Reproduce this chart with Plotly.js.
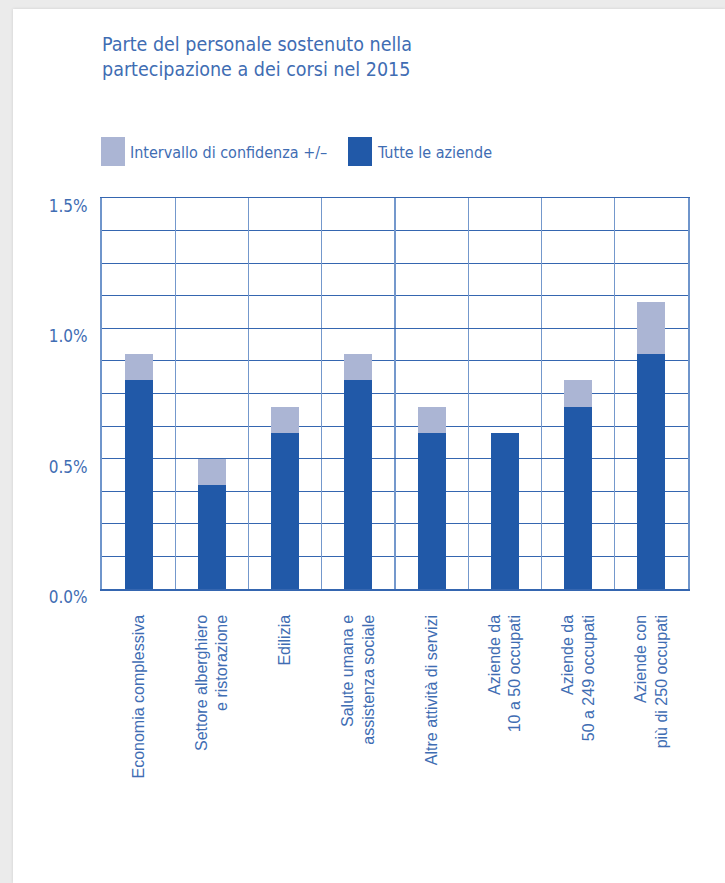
<!DOCTYPE html>
<html>
<head>
<meta charset="utf-8">
<script src="https://cdn.plot.ly/plotly-3.0.1.min.js"></script>
<style>
  html, body { margin: 0; padding: 0; background: #ebebeb; width: 725px; height: 883px; overflow: hidden; }
  #chart { position: absolute; left: 13px; top: 9px; width: 712px; height: 874px; background: #ffffff; box-shadow: 0 0 3px rgba(0,0,0,0.12); }
</style>
</head>
<body>
<div id="chart"></div>
<script>
// ---- data ----
const categories = [
  "Economia complessiva",
  "Settore alberghiero<br>e ristorazione",
  "Edilizia",
  "Salute umana e<br>assistenza sociale",
  "Altre attività di servizi",
  "Aziende da<br>10 a 50 occupati",
  "Aziende da<br>50 a 249 occupati",
  "Aziende con<br>più di 250 occupati"
];
const tutteLeAziende = [0.8, 0.4, 0.6, 0.8, 0.6, 0.6, 0.7, 0.9];        // %
const intervalloConfidenza = [0.1, 0.1, 0.1, 0.1, 0.1, 0.0, 0.1, 0.2];   // % (+/-)
const yTickValues = [0, 0.5, 1.0, 1.5];
const yTickLabels = ["0.0%", "0.5%", "1.0%", "1.5%"];
const seriesNames = ["Tutte le aziende", "Intervallo di confidenza +/–"];
const titleText = "Parte del personale sostenuto nella<br>partecipazione a dei corsi nel 2015";

// ---- style ----
const DARK = "#2159a8";
const LIGHT = "#abb5d4";
const TEXT = "#3f6db3";
const GRID = "#3566b0";
const VGRID = "#7498cc";
const NARROW = "'Liberation Sans Narrow', 'DejaVu Sans Condensed', 'Arial Narrow', sans-serif";
const REG = "'Liberation Sans', Arial, sans-serif";

const traces = [
  { type: "bar", x: categories, y: tutteLeAziende, name: seriesNames[0],
    marker: { color: DARK, line: { width: 0 } }, width: 0.382, hoverinfo: "skip" },
  { type: "bar", x: categories, y: intervalloConfidenza, name: seriesNames[1],
    marker: { color: LIGHT, line: { width: 0 } }, width: 0.382, hoverinfo: "skip" }
];

const layout = {
  width: 712, height: 874,
  paper_bgcolor: "#ffffff", plot_bgcolor: "#ffffff",
  margin: { l: 89, r: 37, t: 189, b: 294, pad: 0 },
  barmode: "stack",
  showlegend: false,
  title: { text: titleText, x: 0, xref: "paper", xanchor: "left",
           y: 1 - 42/874, yref: "container", yanchor: "top",
           font: { family: NARROW, size: 19.5, color: TEXT } },
  xaxis: {
    type: "category", tickson: "boundaries", showgrid: true, gridcolor: VGRID, gridwidth: 1.2,
    showline: true, linecolor: GRID, linewidth: 1.5, mirror: true,
    ticks: "", tickangle: -90, ticklabelstandoff: 18,
    tickfont: { family: REG, size: 16, color: TEXT }, zeroline: false, fixedrange: true
  },
  yaxis: {
    range: [0, 1.5], tickvals: yTickValues, ticktext: yTickLabels,
    showgrid: true, gridcolor: GRID, gridwidth: 1,
    minor: { dtick: 0.125, tick0: 0, showgrid: true, gridcolor: GRID, gridwidth: 1 },
    showline: true, linecolor: "#6f95cb", linewidth: 2, mirror: true,
    ticks: "", ticklabelstandoff: 9, ticklabelshift: 8,
    tickfont: { family: NARROW, size: 17, color: TEXT }, zeroline: false, fixedrange: true
  },
  shapes: [
    { type: "rect", xref: "paper", yref: "paper", x0: -1/586, x1: 23/586, y0: 1 + 32/391, y1: 1 + 61/391,
      fillcolor: LIGHT, line: { width: 0 } },
    { type: "rect", xref: "paper", yref: "paper", x0: 246/586, x1: 270/586, y0: 1 + 32/391, y1: 1 + 61/391,
      fillcolor: DARK, line: { width: 0 } }
  ],
  annotations: [
    { text: seriesNames[1], xref: "paper", yref: "paper", x: 26/586, y: 1 + 46/391,
      xanchor: "left", yanchor: "middle", showarrow: false,
      font: { family: NARROW, size: 16, color: TEXT } },
    { text: seriesNames[0], xref: "paper", yref: "paper", x: 273/586, y: 1 + 46/391,
      xanchor: "left", yanchor: "middle", showarrow: false,
      font: { family: NARROW, size: 16, color: TEXT } }
  ]
};

Plotly.newPlot("chart", traces, layout, { displayModeBar: false, staticPlot: true });
</script>
</body>
</html>
